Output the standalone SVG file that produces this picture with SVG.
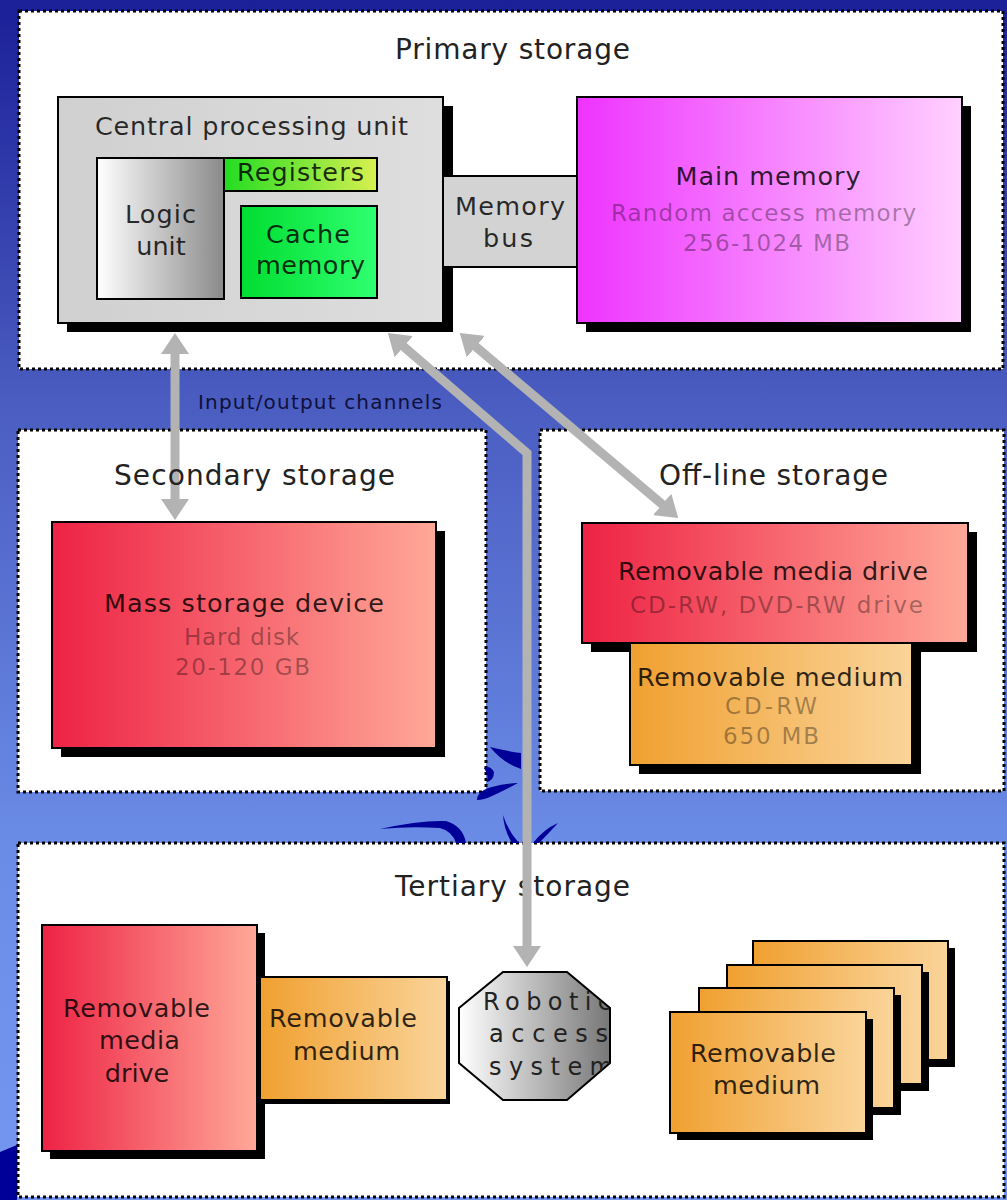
<svg xmlns="http://www.w3.org/2000/svg" width="1007" height="1200" viewBox="0 0 1007 1200">
  <defs>
    <linearGradient id="bg" x1="0" y1="0" x2="0" y2="1">
      <stop offset="0" stop-color="#1b1f98"/>
      <stop offset="0.33" stop-color="#4a5cc0"/>
      <stop offset="0.7" stop-color="#6a8be6"/>
      <stop offset="1" stop-color="#7597f2"/>
    </linearGradient>
    <linearGradient id="gCpu" x1="0" y1="0" x2="1" y2="0">
      <stop offset="0" stop-color="#d0d0d0"/>
      <stop offset="1" stop-color="#dedede"/>
    </linearGradient>
    <linearGradient id="gLogic" x1="0" y1="0" x2="1" y2="0">
      <stop offset="0" stop-color="#ffffff"/>
      <stop offset="1" stop-color="#8a8a8a"/>
    </linearGradient>
    <linearGradient id="gReg" x1="0" y1="0" x2="1" y2="0">
      <stop offset="0" stop-color="#22dd22"/>
      <stop offset="1" stop-color="#d8f050"/>
    </linearGradient>
    <linearGradient id="gCache" x1="0" y1="0" x2="1" y2="0">
      <stop offset="0" stop-color="#00dd30"/>
      <stop offset="1" stop-color="#30ff70"/>
    </linearGradient>
    <linearGradient id="gMain" x1="0" y1="0" x2="1" y2="0">
      <stop offset="0" stop-color="#ee33ff"/>
      <stop offset="1" stop-color="#ffd0ff"/>
    </linearGradient>
    <linearGradient id="gRed" x1="0" y1="0" x2="1" y2="0">
      <stop offset="0" stop-color="#ee2244"/>
      <stop offset="1" stop-color="#ffa898"/>
    </linearGradient>
    <linearGradient id="gOrange" x1="0" y1="0" x2="1" y2="0">
      <stop offset="0" stop-color="#f0a030"/>
      <stop offset="1" stop-color="#fad49a"/>
    </linearGradient>
    <linearGradient id="gOct" x1="0" y1="0" x2="1" y2="0">
      <stop offset="0" stop-color="#ffffff"/>
      <stop offset="1" stop-color="#777777"/>
    </linearGradient>
    <clipPath id="octClip">
      <polygon points="503,972 567,972 610,1008 610,1063 567,1100 503,1100 459,1063 459,1008"/>
    </clipPath>
    <marker id="head" markerUnits="userSpaceOnUse" viewBox="0 0 21 28" markerWidth="21" markerHeight="28" refX="1" refY="14" orient="auto-start-reverse">
      <path d="M0,0 L21,14 L0,28 Z" fill="#b3b3b3"/>
    </marker>
    <style>
      .panel { fill: #ffffff; stroke: #000000; stroke-width: 3; stroke-dasharray: 3 3; }
      .shadow { fill: #000000; }
      .box { stroke: #000000; stroke-width: 2; }
      .t { font-family: "DejaVu Sans", "Liberation Sans", sans-serif; text-anchor: middle; }
      .title { font-size: 28px; fill: #222222; }
      .lbl { font-size: 25.5px; fill: #000000; fill-opacity: 0.82; }
      .sub { font-size: 23px; fill: #000000; fill-opacity: 0.35; }
      .band { font-size: 20px; fill: #10103a; }
      .rob { font-size: 24px; fill: #222222; text-anchor: start; }
      .wire { fill: none; stroke: #b3b3b3; stroke-width: 9; stroke-linejoin: miter; }
      .swirl { fill: #000099; }
    </style>
  </defs>

  <!-- backdrop -->
  <rect x="0" y="0" width="1007" height="1200" fill="url(#bg)"/>
  <polygon class="swirl" points="0,1152 17,1145 17,1200 0,1200"/>

  <!-- storage level panels -->
  <g id="primary-storage">
    <rect class="panel" x="19" y="11" width="984" height="358"/>
    <text class="t title" x="512.5" y="59" textLength="235" lengthAdjust="spacing">Primary storage</text>
  </g>
  <g id="secondary-storage">
    <rect class="panel" x="18" y="430" width="468" height="362"/>
  </g>
  <g id="offline-storage">
    <rect class="panel" x="540" y="430" width="464" height="361"/>
    <text class="t title" x="773.5" y="485" textLength="229" lengthAdjust="spacing">Off-line storage</text>
  </g>
  <g id="tertiary-storage">
    <rect class="panel" x="18" y="843" width="986" height="354"/>
    <text class="t title" x="512.5" y="896" textLength="235" lengthAdjust="spacing">Tertiary storage</text>
  </g>

  <text class="t band" x="320" y="409" textLength="244" lengthAdjust="spacing">Input/output channels</text>

  <!-- decorative strokes in the gaps -->
  <g id="swirls">
    <path class="swirl" d="M490,747 Q506,751 521,753 L521,769 Q503,763 490,747 Z"/>
    <path class="swirl" d="M484,768 Q490,765 494,772 Q494,780 487,782 Q489,776 484,768 Z"/>
    <path class="swirl" d="M477,800 Q477,791 492,787 Q506,783 518,783 Q505,790 492,796 Q484,800 477,800 Z"/>
    <path class="swirl" d="M380,829 Q420,820 446,821 Q463,826 466,843 L456,843 Q452,831 440,828 Q410,826 380,829 Z"/>
    <path class="swirl" d="M503,815 Q508,831 519,843 L512,843 Q504,830 503,815 Z"/>
    <path class="swirl" d="M533,843 Q544,829 558,823 Q549,833 539,843 Z"/>
  </g>

  <!-- primary storage contents -->
  <g id="cpu">
    <rect class="shadow" x="67" y="106" width="386" height="226"/>
    <rect class="box" x="58" y="97" width="385" height="226" fill="url(#gCpu)"/>
    <text class="t lbl" x="251.5" y="135" textLength="313" lengthAdjust="spacing">Central processing unit</text>
  </g>
  <g id="logic-unit">
    <rect class="box" x="97" y="158" width="127" height="141" fill="url(#gLogic)"/>
    <text class="t lbl" x="160.5" y="223" textLength="71" lengthAdjust="spacing">Logic</text>
    <text class="t lbl" x="161" y="255">unit</text>
  </g>
  <g id="registers">
    <rect class="box" x="224" y="158" width="153" height="33" fill="url(#gReg)"/>
    <text class="t lbl" x="300.5" y="181" textLength="127" lengthAdjust="spacing">Registers</text>
  </g>
  <g id="cache-memory">
    <rect class="box" x="241" y="206" width="136" height="92" fill="url(#gCache)"/>
    <text class="t lbl" x="308" y="243" textLength="84" lengthAdjust="spacing">Cache</text>
    <text class="t lbl" x="310.5" y="274" textLength="109" lengthAdjust="spacing">memory</text>
  </g>
  <g id="main-memory">
    <rect class="shadow" x="586" y="106" width="385" height="226"/>
    <rect class="box" x="577" y="97" width="385" height="226" fill="url(#gMain)"/>
    <text class="t lbl" x="768" y="185" textLength="185" lengthAdjust="spacing">Main memory</text>
    <text class="t sub" x="763.5" y="221" textLength="305" lengthAdjust="spacing">Random access memory</text>
    <text class="t sub" x="766.5" y="251" textLength="167" lengthAdjust="spacing">256-1024 MB</text>
  </g>
  <g id="memory-bus">
    <rect class="box" x="443" y="176" width="134" height="91" fill="#d3d3d3"/>
    <text class="t lbl" x="510" y="215" textLength="110" lengthAdjust="spacing">Memory</text>
    <text class="t lbl" x="508" y="247" textLength="50" lengthAdjust="spacing">bus</text>
  </g>

  <!-- secondary storage contents -->
  <g id="mass-storage-device">
    <rect class="shadow" x="61" y="531" width="384" height="226"/>
    <rect class="box" x="52" y="522" width="384" height="226" fill="url(#gRed)"/>
    <text class="t lbl" x="244" y="612" textLength="280" lengthAdjust="spacing">Mass storage device</text>
    <text class="t sub" x="241.5" y="645" textLength="115" lengthAdjust="spacing">Hard disk</text>
    <text class="t sub" x="242.5" y="675" textLength="135" lengthAdjust="spacing">20-120 GB</text>
  </g>

  <!-- off-line storage contents -->
  <g id="offline-drive">
    <rect class="shadow" x="591" y="532" width="386" height="120"/>
    <rect class="box" x="582" y="523" width="386" height="120" fill="url(#gRed)"/>
    <text class="t lbl" x="773" y="580" textLength="310" lengthAdjust="spacing">Removable media drive</text>
    <text class="t sub" x="776.5" y="613" textLength="293" lengthAdjust="spacing">CD-RW, DVD-RW drive</text>
  </g>
  <g id="offline-medium">
    <rect class="shadow" x="639" y="652" width="282" height="122"/>
    <rect class="box" x="630" y="643" width="282" height="122" fill="url(#gOrange)"/>
    <text class="t lbl" x="770" y="686" textLength="266" lengthAdjust="spacing">Removable medium</text>
    <text class="t sub" x="771" y="714" textLength="92" lengthAdjust="spacing">CD-RW</text>
    <text class="t sub" x="771" y="744" textLength="96" lengthAdjust="spacing">650 MB</text>
  </g>

  <!-- tertiary storage contents -->
  <g id="tertiary-drive">
    <rect class="shadow" x="50" y="933" width="215" height="226"/>
    <rect class="box" x="42" y="925" width="215" height="226" fill="url(#gRed)"/>
    <text class="t lbl" x="136.5" y="1017" textLength="147" lengthAdjust="spacing">Removable</text>
    <text class="t lbl" x="139.5" y="1049" textLength="81" lengthAdjust="spacing">media</text>
    <text class="t lbl" x="137" y="1082">drive</text>
  </g>
  <g id="tertiary-medium">
    <rect class="shadow" x="264" y="981" width="186" height="123"/>
    <rect class="box" x="260" y="977" width="187" height="123" fill="url(#gOrange)"/>
    <text class="t lbl" x="343" y="1027" textLength="148" lengthAdjust="spacing">Removable</text>
    <text class="t lbl" x="346.5" y="1060" textLength="107" lengthAdjust="spacing">medium</text>
  </g>
  <g id="robotic-access-system">
    <polygon class="box" points="503,972 567,972 610,1008 610,1063 567,1100 503,1100 459,1063 459,1008" fill="url(#gOct)"/>
    <g clip-path="url(#octClip)">
      <text class="t rob" x="483" y="1010" textLength="128" lengthAdjust="spacing">Robotic</text>
      <text class="t rob" x="489" y="1042" textLength="119" lengthAdjust="spacing">access</text>
      <text class="t rob" x="489" y="1075" textLength="124" lengthAdjust="spacing">system</text>
    </g>
  </g>
  <g id="media-stack">
    <rect class="shadow" x="760" y="948" width="195" height="119"/>
    <rect class="box" x="753" y="941" width="195" height="119" fill="url(#gOrange)"/>
    <rect class="shadow" x="734" y="972" width="195" height="119"/>
    <rect class="box" x="727" y="965" width="195" height="119" fill="url(#gOrange)"/>
    <rect class="shadow" x="706" y="995" width="195" height="120"/>
    <rect class="box" x="699" y="988" width="195" height="120" fill="url(#gOrange)"/>
    <rect class="shadow" x="677" y="1019" width="196" height="121"/>
    <rect class="box" x="670" y="1012" width="196" height="121" fill="url(#gOrange)"/>
    <text class="t lbl" x="763" y="1062" textLength="146" lengthAdjust="spacing">Removable</text>
    <text class="t lbl" x="766.5" y="1094" textLength="107" lengthAdjust="spacing">medium</text>
  </g>

  <!-- input/output channels -->
  <g id="connectors">
    <path class="wire" d="M175,353 L175,500" marker-start="url(#head)" marker-end="url(#head)"/>
    <path class="wire" d="M403,346 L527,453 L527,947" marker-start="url(#head)" marker-end="url(#head)"/>
    <path class="wire" d="M475,346 L663,505" marker-start="url(#head)" marker-end="url(#head)"/>
  </g>

  <g id="secondary-storage-title">
    <text class="t title" x="254.5" y="485" textLength="281" lengthAdjust="spacing">Secondary storage</text>
  </g>
</svg>
